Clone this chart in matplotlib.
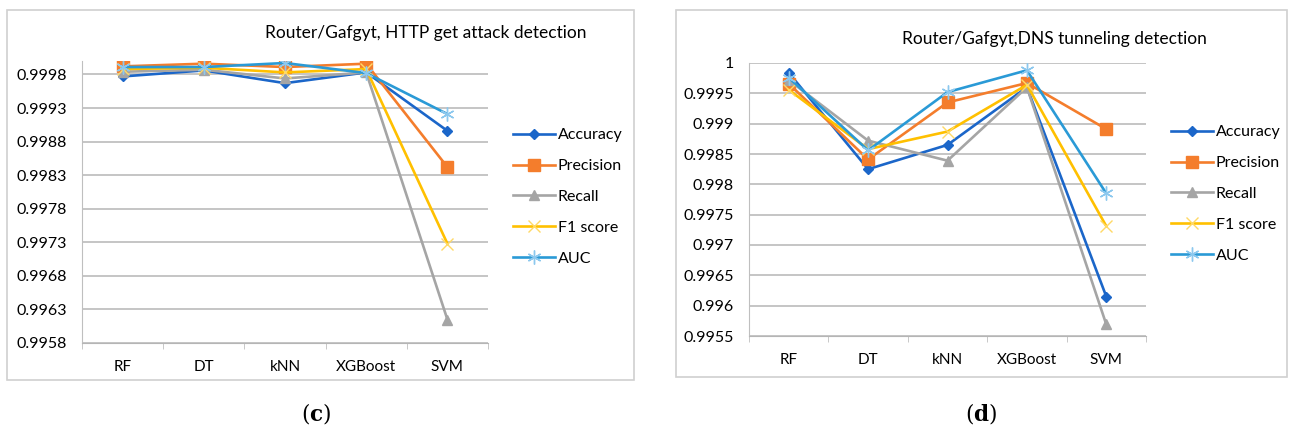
import numpy as np
import matplotlib
matplotlib.use("Agg")
import matplotlib.pyplot as plt
from matplotlib.patches import Rectangle

plt.rcParams['font.family'] = ['Lato', 'DejaVu Sans']
plt.rcParams['mathtext.fontset'] = 'dejavuserif'

# Daten
models = ["RF", "DT", "kNN", "XGBoost", "SVM"]
metrics = ["Accuracy", "Precision", "Recall", "F1 score", "AUC"]

# (c) HTTP get attack
http_acc = [0.99977, 0.99986, 0.99967, 0.99983, 0.99896]
http_prec = [0.99992, 0.99996, 0.99991, 0.99996, 0.99842]
http_rec = [0.99984, 0.99987, 0.99974, 0.99983, 0.99615]
http_f1 = [0.99988, 0.99990, 0.99983, 0.99988, 0.99728]
http_auc = [0.99991, 0.99991, 0.99997, 0.99982, 0.99921]
http_yticks = [0.9958, 0.9963, 0.9968, 0.9973, 0.9978, 0.9983, 0.9988, 0.9993, 0.9998]
http_ylabels = ["0.9958", "0.9963", "0.9968", "0.9973", "0.9978", "0.9983", "0.9988", "0.9993", "0.9998"]

# (d) DNS tunneling
dns_acc = [0.99984, 0.99825, 0.99865, 0.99960, 0.99615]
dns_prec = [0.99966, 0.99841, 0.99935, 0.99967, 0.99891]
dns_rec = [0.99972, 0.99872, 0.99839, 0.99960, 0.99569]
dns_f1 = [0.99956, 0.99858, 0.99887, 0.99964, 0.99731]
dns_auc = [0.99976, 0.99856, 0.99952, 0.99988, 0.99785]
dns_yticks = [0.9955, 0.996, 0.9965, 0.997, 0.9975, 0.998, 0.9985, 0.999, 0.9995, 1.0]
dns_ylabels = ["0.9955", "0.996", "0.9965", "0.997", "0.9975", "0.998", "0.9985", "0.999", "0.9995", "1"]

# Stile
colors = ['#1b66c9', '#f47d2c', '#a5a5a5', '#ffc000', '#2a9ad6']
mcolors = ['#1b66c9', '#f47d2c', '#a5a5a5', '#ffd966', '#8cc8ee']
markers = ['D', 's', '^', 'x', (6, 2, 0)]
msizes = [5.5, 8, 7, 9, 10]

W, H = 1289, 430
fig = plt.figure(figsize=(W / 100, H / 100), dpi=100)


def px(x0, y0, x1, y1):
    # Pixel-Box -> Figure-Koordinaten
    return [x0 / W, 1 - y1 / H, (x1 - x0) / W, (y1 - y0) / H]


def panel(box, frame, series, yticks, ylabels, ylim, title, title_xy, leg_xy, cap, cap_x):
    fig.patches.append(Rectangle(frame[:2], frame[2], frame[3], transform=fig.transFigure,
                                 fill=False, edgecolor='#d0d0d0', lw=1.2))
    ax = fig.add_axes(box)
    x = np.arange(len(models))
    for i, vals in enumerate(series):
        ax.plot(x, vals, color=colors[i], lw=1.9, marker=markers[i], ms=msizes[i],
                mfc=mcolors[i], mec=mcolors[i], mew=1, label=metrics[i], zorder=3 + i * 0.1)
    ax.set_xlim(-0.5, 4.5)
    ax.set_ylim(*ylim)
    ax.set_yticks(yticks)
    ax.set_yticklabels(ylabels)
    ax.set_xticks(x)
    ax.set_xticklabels(models)
    ax.set_xticks(np.arange(-0.5, 5, 1), minor=True)
    ax.tick_params(axis='y', length=0, pad=11, labelsize=11.5)
    ax.tick_params(axis='x', which='major', length=0, pad=12, labelsize=11)
    ax.tick_params(axis='x', which='minor', length=4, color='#bfbfbf', direction='out')
    ax.grid(axis='y', color='#b5b5b5', lw=1.1)
    ax.set_axisbelow(True)
    for s in ['top', 'right']:
        ax.spines[s].set_visible(False)
    ax.spines['left'].set_color('#bfbfbf')
    ax.spines['bottom'].set_color('#b5b5b5')
    fig.text(title_xy[0] / W, 1 - title_xy[1] / H, title, ha='center', va='center', fontsize=12.5)
    ax.legend(loc='upper left', bbox_to_anchor=(leg_xy[0] / W, 1 - leg_xy[1] / H),
              bbox_transform=fig.transFigure, frameon=False, borderpad=0, borderaxespad=0,
              handlelength=2.6, handletextpad=0.2, labelspacing=1.05, fontsize=11.5)
    fig.text(cap_x / W, 1 - 413 / H, r'($\mathbf{' + cap + '}$)', ha='center', va='center',
             fontsize=15.5, family='DejaVu Serif')
    return ax


panel(px(82, 61, 488, 343), px(7, 10, 634, 380),
      [http_acc, http_prec, http_rec, http_f1, http_auc],
      http_yticks, http_ylabels, (0.9958, 1.0),
      "Router/Gafgyt, HTTP get attack detection", (426, 33), (513, 128), 'c', 316)

panel(px(749, 63, 1146, 336), px(676, 10, 1287, 377),
      [dns_acc, dns_prec, dns_rec, dns_f1, dns_auc],
      dns_yticks, dns_ylabels, (0.9955, 1.0),
      "Router/Gafgyt,DNS tunneling detection", (1054, 39), (1171, 125), 'd', 981)

fig.savefig("out.png", dpi=100)
